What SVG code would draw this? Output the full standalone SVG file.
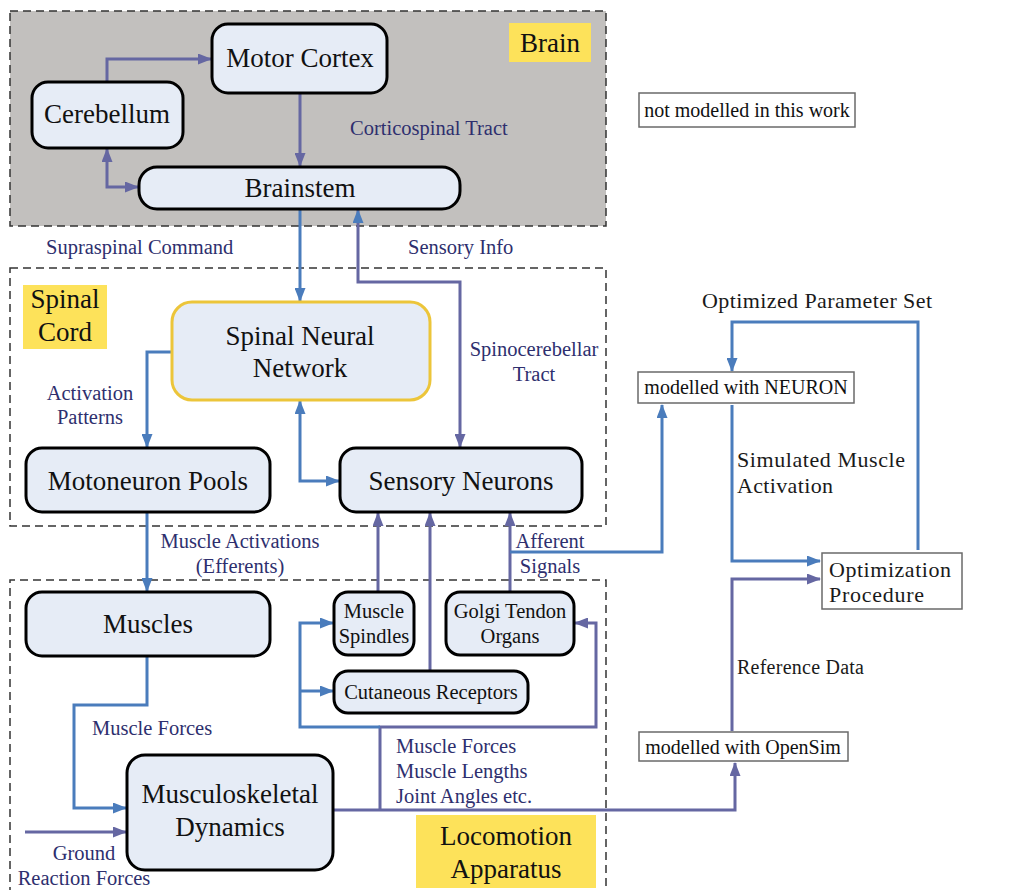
<svg xmlns="http://www.w3.org/2000/svg" width="1012" height="890" viewBox="0 0 1012 890">
  <style>
    text { font-family: 'Liberation Serif', 'Times New Roman', serif; }
    .node { fill: #e6ecf6; stroke: #000; stroke-width: 3; }
    .note { fill: #fff; stroke: #6a6a6a; stroke-width: 1.5; }
    .region { fill: none; stroke: #333; stroke-width: 1.5; stroke-dasharray: 8 5; }
    .tag { fill: #fde25a; }
    .blue { fill: none; stroke: #4a7cbc; stroke-width: 3; }
    .purple { fill: none; stroke: #6567a2; stroke-width: 3; }
    .big { font-size: 27px; fill: #111; }
    .small { font-size: 20.5px; fill: #111; }
    .lbl { font-size: 20.5px; fill: #2e2f6e; }
    .box { font-size: 20px; fill: #111; }
    .rt { font-size: 22px; fill: #1a1a1a; }
  </style>
  <defs>
    <marker id="ab" viewBox="0 0 14 11" refX="13" refY="5.5" markerWidth="14" markerHeight="11" markerUnits="userSpaceOnUse" orient="auto-start-reverse">
      <path d="M0,0 L14,5.5 L0,11 Z" fill="#4a7cbc"/>
    </marker>
    <marker id="ap" viewBox="0 0 14 11" refX="13" refY="5.5" markerWidth="14" markerHeight="11" markerUnits="userSpaceOnUse" orient="auto-start-reverse">
      <path d="M0,0 L14,5.5 L0,11 Z" fill="#6567a2"/>
    </marker>
  </defs>

  <rect width="1012" height="890" fill="#fff"/>

  <!-- dashed regions with yellow tags -->
  <g id="region-brain">
    <rect x="10" y="11" width="596" height="215" fill="#c2c0be"/>
    <rect class="region" x="10" y="11" width="596" height="215"/>
    <rect class="tag" x="509" y="23" width="82" height="39"/>
    <text class="big" x="550" y="52" text-anchor="middle">Brain</text>
  </g>
  <g id="region-spinal">
    <rect class="region" x="10" y="268" width="596" height="258"/>
    <rect class="tag" x="23" y="285" width="84" height="64"/>
    <text class="big" x="65" y="308" text-anchor="middle">Spinal</text>
    <text class="big" x="65" y="341" text-anchor="middle">Cord</text>
  </g>
  <g id="region-locomotion">
    <path class="region" d="M10,895 V580 H606 V895"/>
    <rect class="tag" x="416" y="815" width="180" height="73"/>
    <text class="big" x="506" y="845" text-anchor="middle">Locomotion</text>
    <text class="big" x="506" y="878" text-anchor="middle">Apparatus</text>
  </g>

  <!-- connectors -->
  <g id="connectors">
    <path class="purple" d="M107,82 V59 H211" marker-end="url(#ap)"/>
    <path class="purple" d="M300,93 V166" marker-end="url(#ap)"/>
    <path class="purple" d="M107,149 V187 H138" marker-start="url(#ap)" marker-end="url(#ap)"/>
    <path class="blue" d="M300,209 V301" marker-end="url(#ab)"/>
    <path class="purple" d="M460,447 V282 H358 V210" marker-start="url(#ap)" marker-end="url(#ab)"/>
    <path class="blue" d="M172,352 H147 V447" marker-end="url(#ab)"/>
    <path class="blue" d="M300,401 V481 H339" marker-start="url(#ab)" marker-end="url(#ab)"/>
    <path class="blue" d="M147,512 V591" marker-end="url(#ab)"/>
    <path class="purple" d="M378,592 V513" marker-end="url(#ap)"/>
    <path class="purple" d="M430,671 V513" marker-end="url(#ap)"/>
    <path class="purple" d="M510,592 V513" marker-end="url(#ap)"/>
    <path class="blue" d="M510,552 H662 V405" marker-end="url(#ab)"/>
    <path class="blue" d="M147,656 V705 H74 V808 H126" marker-end="url(#ab)"/>
    <path class="purple" d="M25,832 H126" marker-end="url(#ap)"/>
    <path class="purple" d="M333,810 H735 V763" marker-end="url(#ap)"/>
    <path class="purple" d="M380,810 V727 H596 V623 H575" marker-end="url(#ap)"/>
    <path class="blue" d="M380,727 H300 V623 H333" marker-end="url(#ab)"/>
    <path class="blue" d="M300,691 H333" marker-end="url(#ab)"/>
    <path class="blue" d="M918,550 V322 H732 V371" marker-end="url(#ab)"/>
    <path class="blue" d="M732,405 V561 H820" marker-end="url(#ab)"/>
    <path class="purple" d="M732,731 V579 H820" marker-end="url(#ap)"/>
  </g>

  <!-- connector labels -->
  <g id="labels" class="lbl">
    <text x="350" y="135">Corticospinal Tract</text>
    <text x="46" y="254">Supraspinal Command</text>
    <text x="408" y="254">Sensory Info</text>
    <text x="534" y="356" text-anchor="middle">Spinocerebellar</text>
    <text x="534" y="381" text-anchor="middle">Tract</text>
    <text x="90" y="400" text-anchor="middle">Activation</text>
    <text x="90" y="424" text-anchor="middle">Patterns</text>
    <text x="240" y="548" text-anchor="middle">Muscle Activations</text>
    <text x="240" y="573" text-anchor="middle">(Efferents)</text>
    <text x="550" y="548" text-anchor="middle">Afferent</text>
    <text x="550" y="573" text-anchor="middle">Signals</text>
    <text x="92" y="735">Muscle Forces</text>
    <text x="396" y="753">Muscle Forces</text>
    <text x="396" y="778">Muscle Lengths</text>
    <text x="396" y="803">Joint Angles etc.</text>
    <text x="84" y="860" text-anchor="middle">Ground</text>
    <text x="84" y="885" text-anchor="middle">Reaction Forces</text>
  </g>

  <!-- nodes -->
  <g id="motor-cortex">
    <rect class="node" x="212" y="24" width="175" height="69" rx="16"/>
    <text class="big" x="300" y="67" text-anchor="middle">Motor Cortex</text>
  </g>
  <g id="cerebellum">
    <rect class="node" x="32" y="82" width="151" height="66" rx="16"/>
    <text class="big" x="107" y="123" text-anchor="middle">Cerebellum</text>
  </g>
  <g id="brainstem">
    <rect class="node" x="139" y="167" width="321" height="42" rx="18"/>
    <text class="big" x="300" y="197" text-anchor="middle">Brainstem</text>
  </g>
  <g id="spinal-neural-network">
    <rect x="172" y="302" width="258" height="98" rx="20" fill="#e6ecf6" stroke="#ecc53a" stroke-width="3"/>
    <text class="big" x="300" y="345" text-anchor="middle">Spinal Neural</text>
    <text class="big" x="300" y="377" text-anchor="middle">Network</text>
  </g>
  <g id="motoneuron-pools">
    <rect class="node" x="26" y="448" width="244" height="64" rx="16"/>
    <text class="big" x="148" y="490" text-anchor="middle">Motoneuron Pools</text>
  </g>
  <g id="sensory-neurons">
    <rect class="node" x="340" y="448" width="242" height="64" rx="16"/>
    <text class="big" x="461" y="490" text-anchor="middle">Sensory Neurons</text>
  </g>
  <g id="muscles">
    <rect class="node" x="26" y="592" width="244" height="64" rx="16"/>
    <text class="big" x="148" y="633" text-anchor="middle">Muscles</text>
  </g>
  <g id="muscle-spindles">
    <rect class="node" x="334" y="592" width="80" height="63" rx="14"/>
    <text class="small" x="374" y="618" text-anchor="middle">Muscle</text>
    <text class="small" x="374" y="643" text-anchor="middle">Spindles</text>
  </g>
  <g id="golgi-tendon-organs">
    <rect class="node" x="446" y="592" width="128" height="63" rx="14"/>
    <text class="small" x="510" y="618" text-anchor="middle">Golgi Tendon</text>
    <text class="small" x="510" y="643" text-anchor="middle">Organs</text>
  </g>
  <g id="cutaneous-receptors">
    <rect class="node" x="334" y="671" width="194" height="42" rx="14"/>
    <text class="small" x="431" y="699" text-anchor="middle">Cutaneous Receptors</text>
  </g>
  <g id="musculoskeletal-dynamics">
    <rect class="node" x="127" y="755" width="206" height="115" rx="18"/>
    <text class="big" x="230" y="803" text-anchor="middle">Musculoskeletal</text>
    <text class="big" x="230" y="836" text-anchor="middle">Dynamics</text>
  </g>

  <!-- plain boxes of the modelling workflow -->
  <g id="not-modelled">
    <rect class="note" x="639" y="93" width="216" height="34"/>
    <text class="box" x="747" y="117" text-anchor="middle">not modelled in this work</text>
  </g>
  <g id="modelled-neuron">
    <rect class="note" x="638" y="372" width="216" height="31"/>
    <text class="box" x="746" y="394" text-anchor="middle">modelled with NEURON</text>
  </g>
  <g id="modelled-opensim">
    <rect class="note" x="639" y="732" width="209" height="29"/>
    <text class="box" x="743" y="754" text-anchor="middle">modelled with OpenSim</text>
  </g>
  <g id="optimization-procedure">
    <rect class="note" x="822" y="553" width="140" height="56"/>
    <text class="rt" x="829" y="577" textLength="122" lengthAdjust="spacing">Optimization</text>
    <text class="rt" x="829" y="602" textLength="95" lengthAdjust="spacing">Procedure</text>
  </g>

  <g id="right-labels" class="rt">
    <text x="702" y="308" textLength="230" lengthAdjust="spacing">Optimized Parameter Set</text>
    <text x="737" y="467" textLength="168" lengthAdjust="spacing">Simulated Muscle</text>
    <text x="737" y="493" textLength="96" lengthAdjust="spacing">Activation</text>
    <text x="737" y="674" font-size="20" textLength="127" lengthAdjust="spacing">Reference Data</text>
  </g>
</svg>
